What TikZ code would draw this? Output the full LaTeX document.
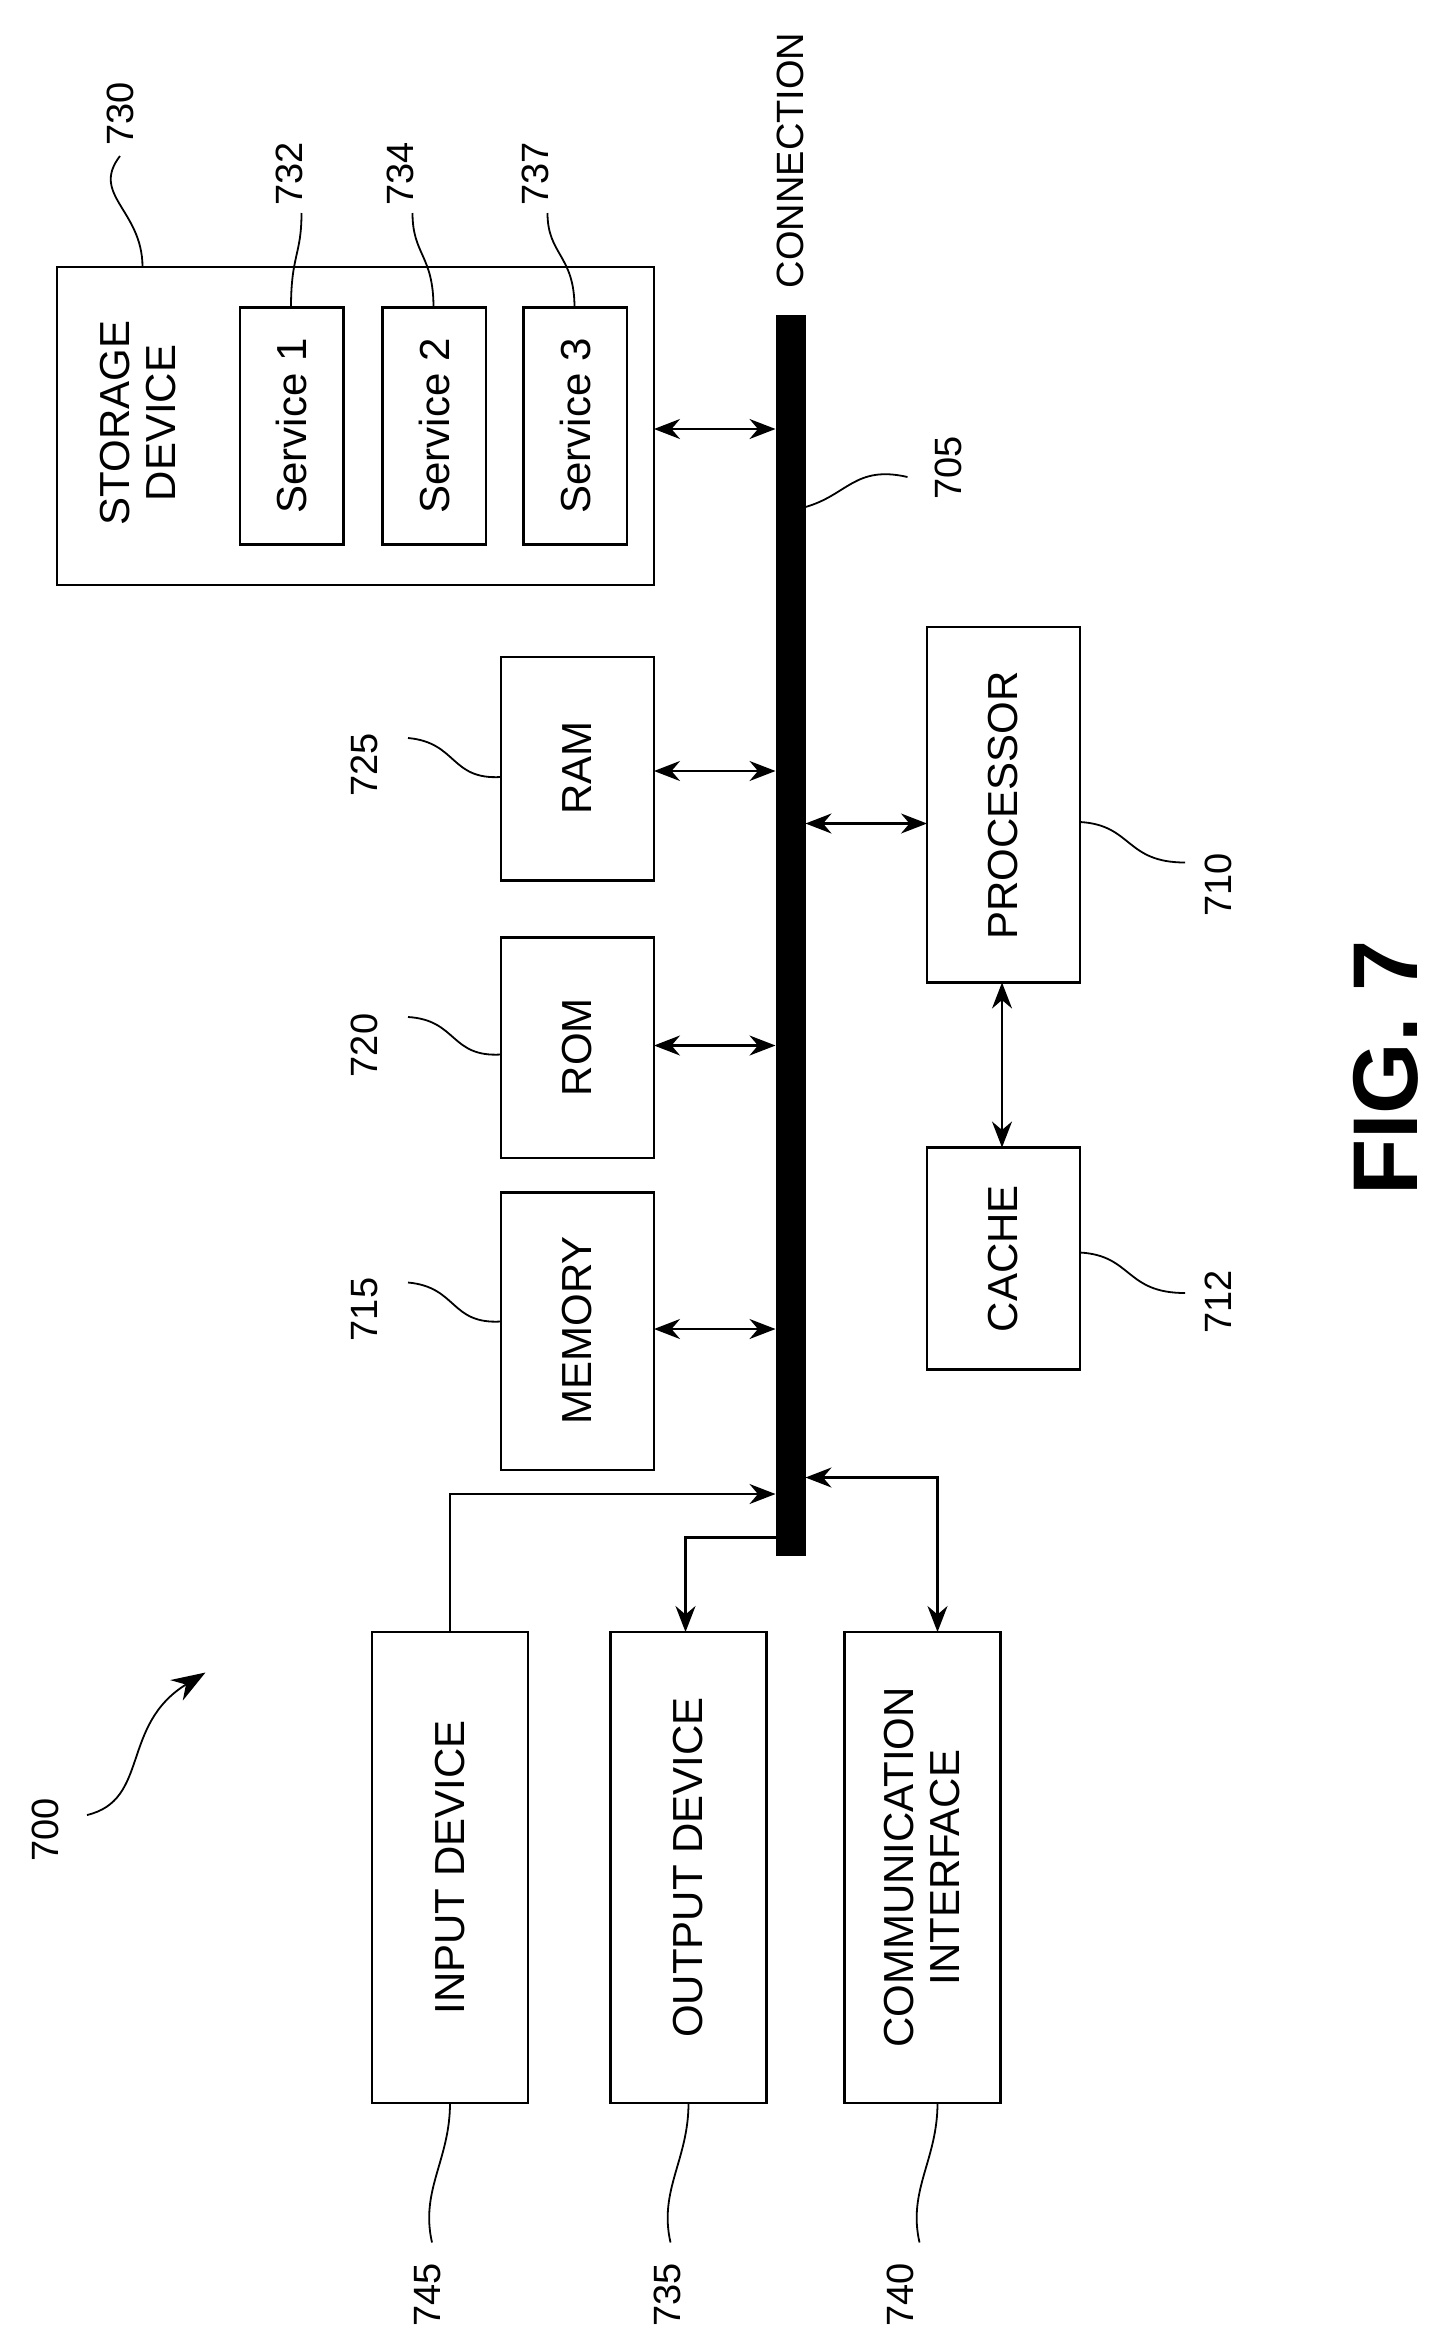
\documentclass[tikz,border=0pt]{standalone}
\usepackage{fontspec}
\setmainfont{Liberation Sans}
\usetikzlibrary{arrows.meta}
\begin{document}
\begin{tikzpicture}[x=1.5pt,y=-1.5pt,line width=2.2pt,
 box/.style={draw,line width=2.2pt},
 txt/.style={rotate=90,font=\fontsize{42}{46}\selectfont,align=center},
 lab/.style={rotate=90,font=\fontsize{38}{44}\selectfont},
 ar/.style={{Stealth[length=26pt,width=20pt]}-{Stealth[length=26pt,width=20pt]}},
 sa/.style={-{Stealth[length=26pt,width=20pt]}},
 ld/.style={line width=1.8pt}]
\useasboundingbox (0,0) rectangle (960,1565.33);
% bus
\fill (517,210) rectangle (537,1037);
\node[lab,anchor=west] (conn) at (527,195) {CONNECTION};
\node[lab] (l705) at (632,312) {705};
\draw[ld] (537,338) .. controls (565,330) and (570,310) .. (605,318);
% storage
\draw[box] (38,178) rectangle (436,390);
\node[txt] (sd) at (92,282) {STORAGE\\DEVICE};
\foreach \x/\n/\l/\lx in {160/1/732/193,255/2/734/267,349/3/737/357}{
 \draw[box] (\x,205) rectangle (\x+69,363);
 \node[txt] at (\x+34.5,284) {Service \n};
 \node[lab] at (\lx,116) {\l};
 \draw[ld] (\lx+8,142) .. controls (\lx+8,170) and (\x+34,170) .. (\x+34,205);
}
\node[lab] (l730) at (80,76) {730};
\draw[ld] (95,178) .. controls (95,140) and (60,130) .. (80,104);
\draw[ar] (436,286) -- (517,286);
% RAM ROM MEMORY
\draw[box] (334,438) rectangle (436,587); \node[txt] (ram) at (385,512) {RAM};
\draw[box] (334,625) rectangle (436,772); \node[txt] (rom) at (385,698) {ROM};
\draw[box] (334,795) rectangle (436,980); \node[txt] (mem) at (385,887) {MEMORY};
\draw[ar] (436,514) -- (517,514);
\draw[ar] (436,697) -- (517,697);
\draw[ar] (436,886) -- (517,886);
\node[lab] (l725) at (243,510) {725};
\node[lab] (l720) at (243,697) {720};
\node[lab] (l715) at (243,873) {715};
\draw[ld] (272,492) .. controls (305,495) and (300,520) .. (334,518);
\draw[ld] (272,678) .. controls (305,680) and (300,705) .. (334,703);
\draw[ld] (272,855) .. controls (305,858) and (300,883) .. (334,881);
% processor cache
\draw[box] (618,418) rectangle (720,655); \node[txt] (proc) at (669,537) {PROCESSOR};
\draw[box] (618,765) rectangle (720,913); \node[txt] (cache) at (669,839) {CACHE};
\draw[ar] (537,549) -- (618,549);
\draw[ar] (668,655) -- (668,765);
\node[lab] (l710) at (812,590) {710};
\node[lab] (l712) at (812,868) {712};
\draw[ld] (720,548) .. controls (755,550) and (750,575) .. (790,575);
\draw[ld] (720,835) .. controls (755,837) and (750,862) .. (790,862);
% bottom boxes
\draw[box] (248,1088) rectangle (352,1402); \node[txt] (in) at (300,1245) {INPUT DEVICE};
\draw[box] (407,1088) rectangle (511,1402); \node[txt] (out) at (459,1245) {OUTPUT DEVICE};
\draw[box] (563,1088) rectangle (667,1402); \node[txt] (com) at (615,1245) {COMMUNICATION\\INTERFACE};
\draw[sa] (300,1088) -- (300,996) -- (517,996);
\draw[sa] (517,1025) -- (457,1025) -- (457,1088);
\draw[ar] (537,985) -- (625,985) -- (625,1088);
\node[lab] (l745) at (285,1530) {745};
\node[lab] (l735) at (445,1530) {735};
\node[lab] (l740) at (600,1530) {740};
\foreach \x in {300,459,625}{
 \draw[ld] (\x-12,1495) .. controls (\x-20,1460) and (\x,1440) .. (\x,1402);
}
% 700
\node[lab] (l700) at (30,1220) {700};
\draw[ld,-{Stealth[length=34pt,width=24pt]}] (58,1210) .. controls (100,1200) and (80,1150) .. (137,1115);
% FIG
\node[rotate=90,font=\fontsize{92}{96}\selectfont\bfseries] (fig) at (924,712) {FIG. 7};
\end{tikzpicture}
\end{document}
